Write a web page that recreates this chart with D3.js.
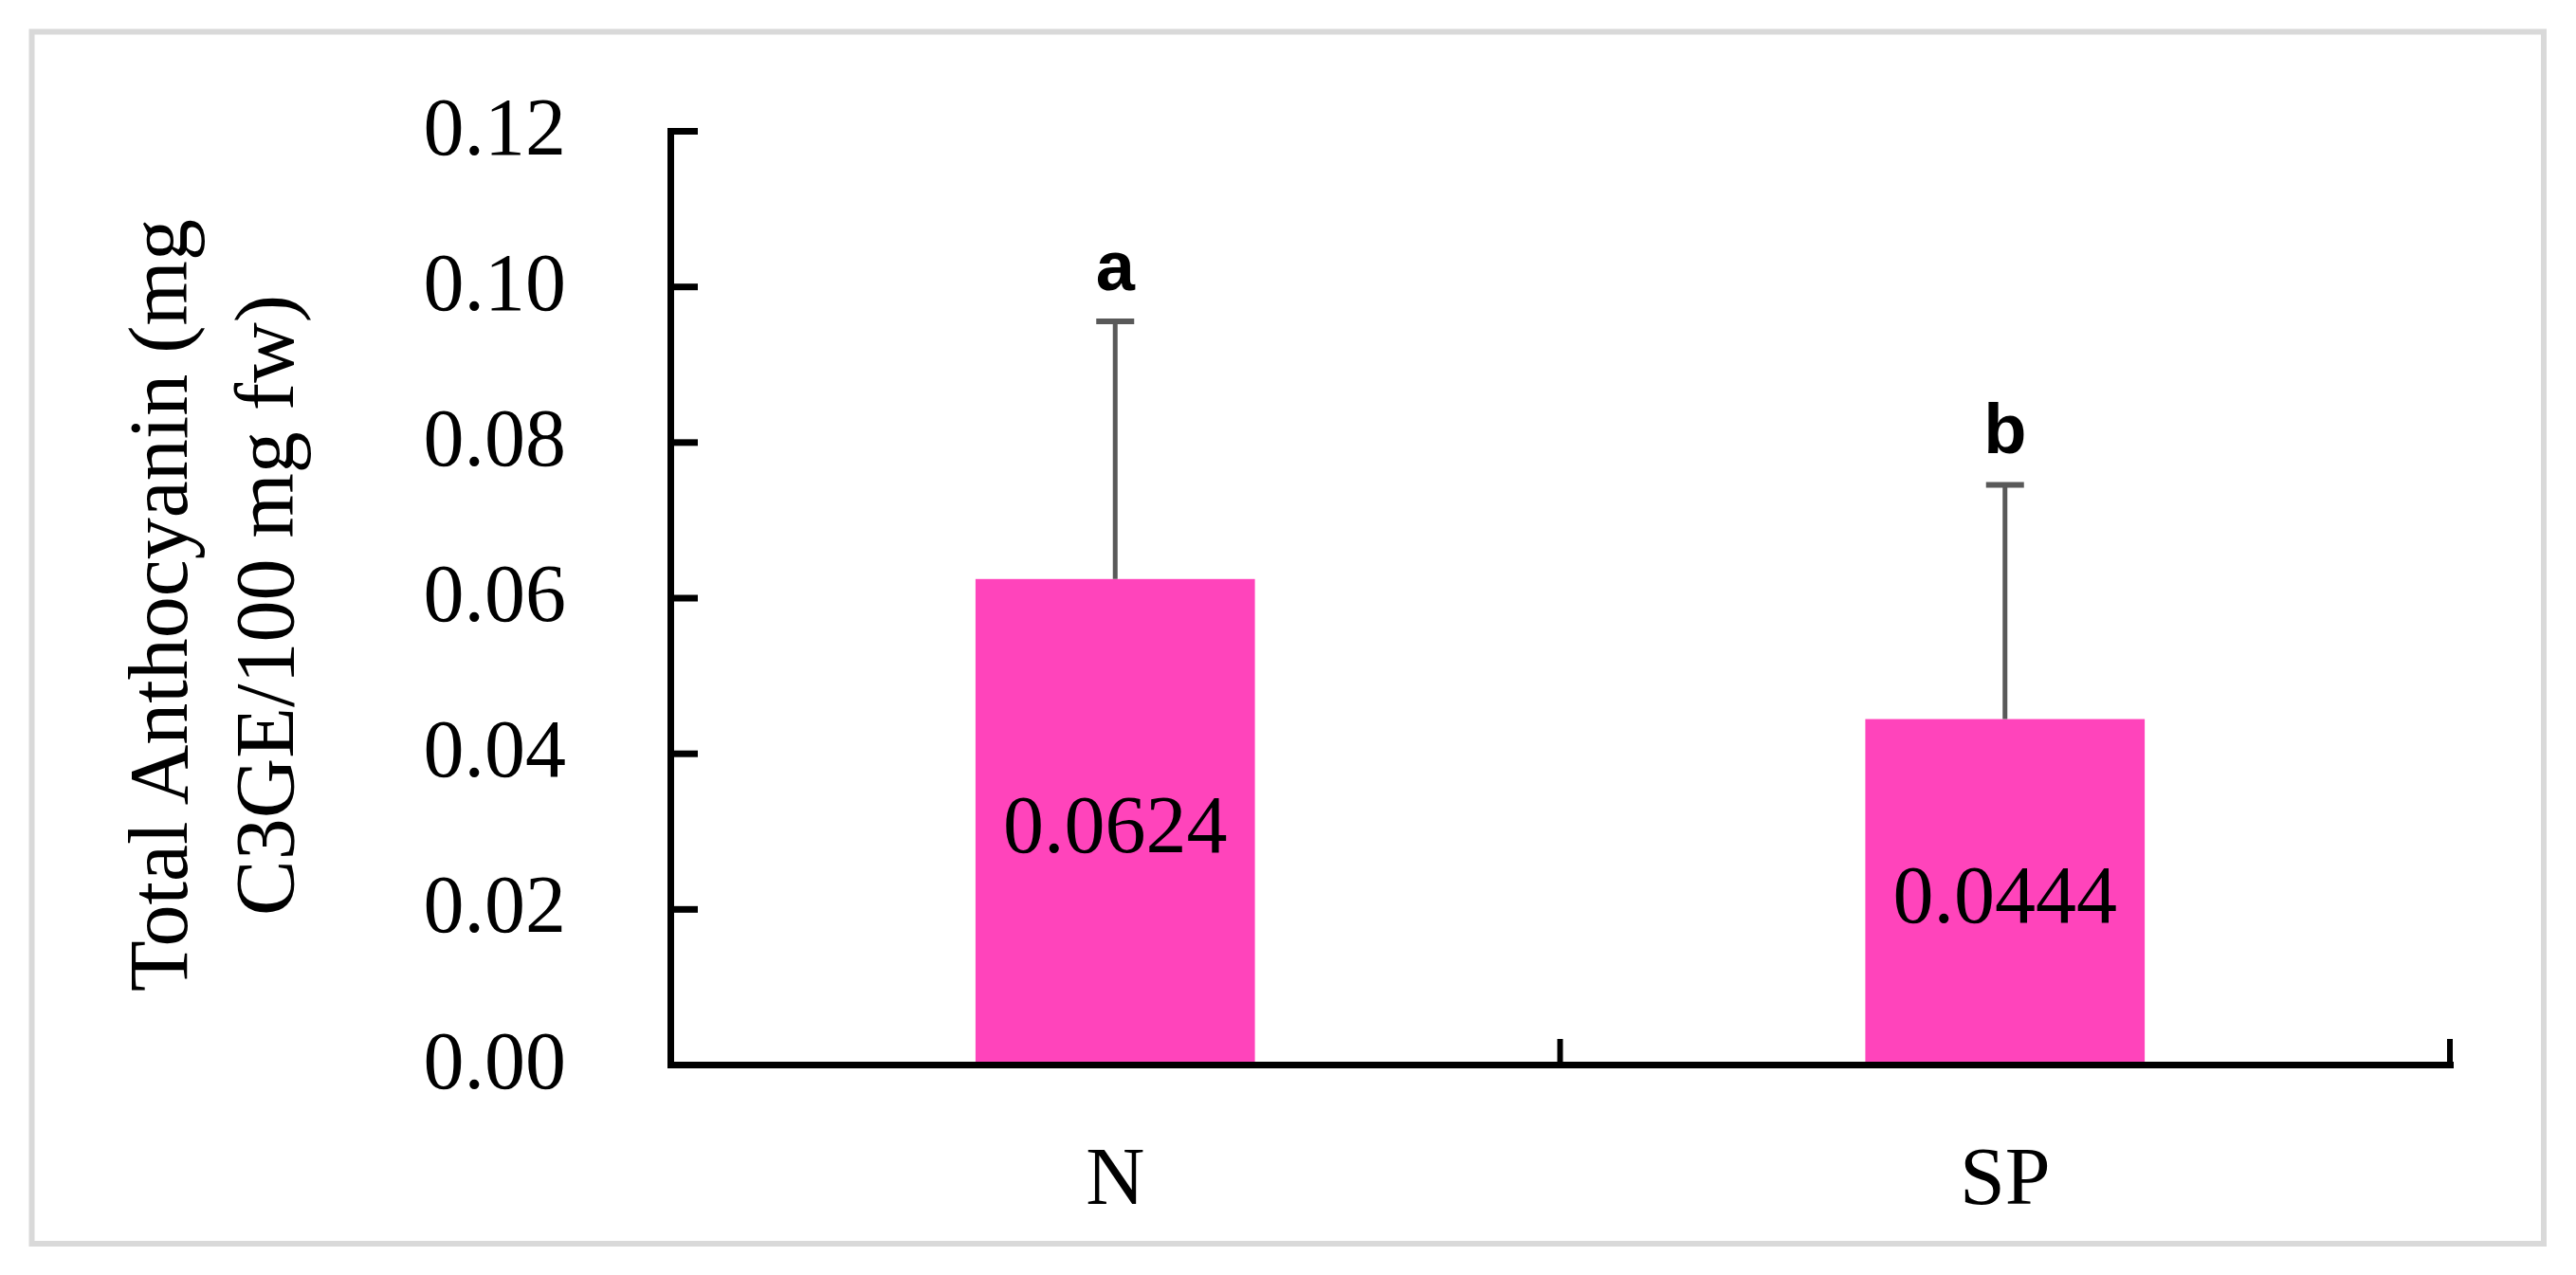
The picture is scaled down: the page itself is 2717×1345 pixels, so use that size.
<!DOCTYPE html>
<html>
<head>
<meta charset="utf-8">
<script src="https://cdn.jsdelivr.net/npm/d3@7"></script>
<style>
  html, body { margin: 0; padding: 0; background: #ffffff; }
  svg { display: block; }
</style>
</head>
<body>
<script>
// ---- Data ----
const categories = ["N", "SP"];
const means = [0.0624, 0.0444];
const sds = [0.0331, 0.0301];
const letters = ["a", "b"];
const valueLabels = ["0.0624", "0.0444"];
const yTicks = [0.00, 0.02, 0.04, 0.06, 0.08, 0.10, 0.12];
const yTitleLines = ["Total Anthocyanin (mg", "C3GE/100 mg fw)"];

(function () {
const W = 2717, H = 1345;
const svg = d3.select("body").append("svg").attr("width", W).attr("height", H);
svg.append("rect").attr("width", W).attr("height", H).attr("fill", "#fff");

// outer frame
svg.append("rect")
  .attr("x", 33.5).attr("y", 33.5)
  .attr("width", 2683 - 33.5).attr("height", 1312 - 33.5)
  .attr("fill", "none").attr("stroke", "#d9d9d9").attr("stroke-width", 6);

const pLeft = 707, pRight = 2584, pTop = 138, pBottom = 1123;
const pad = 0.686;

const x = d3.scaleBand().domain(categories).range([pLeft, pRight])
  .paddingInner(pad).paddingOuter(pad / 2);
const y = d3.scaleLinear().domain([0, 0.12]).range([pBottom, pTop]);

const serif = "'Liberation Serif', 'Times New Roman', serif";

// bars
svg.selectAll("rect.bar").data(categories).enter().append("rect")
  .attr("class", "bar")
  .attr("x", d => x(d))
  .attr("width", x.bandwidth())
  .attr("y", (d, i) => y(means[i]))
  .attr("height", (d, i) => y(0) - y(means[i]))
  .attr("fill", "#ff44bb");

// error bars (upper only)
const cap = 40;
categories.forEach((c, i) => {
  const cx = x(c) + x.bandwidth() / 2;
  const yt = y(means[i] + sds[i]);
  svg.append("line").attr("x1", cx).attr("x2", cx)
    .attr("y1", y(means[i])).attr("y2", yt)
    .attr("stroke", "#595959").attr("stroke-width", 5);
  svg.append("line").attr("x1", cx - cap / 2).attr("x2", cx + cap / 2)
    .attr("y1", yt).attr("y2", yt)
    .attr("stroke", "#595959").attr("stroke-width", 6);
  svg.append("text").attr("x", cx).attr("y", yt - 33)
    .attr("text-anchor", "middle")
    .attr("font-family", "'Liberation Sans Narrow', 'Liberation Sans', Arial, sans-serif")
    .attr("font-weight", "bold").attr("font-size", 74)
    .attr("fill", "#000").text(letters[i]);
  const mid = (y(means[i]) + y(0)) / 2;
  svg.append("text").attr("x", cx).attr("y", mid + 32)
    .attr("text-anchor", "middle")
    .attr("font-family", serif).attr("font-size", 86)
    .attr("fill", "#000").text(valueLabels[i]);
});

// y axis
const yAxis = d3.axisLeft(y).tickValues(yTicks)
  .tickFormat(d3.format(".2f"))
  .tickSizeInner(-29).tickSizeOuter(0).tickPadding(110);
const gy = svg.append("g").attr("transform", `translate(${pLeft},0)`).call(yAxis);
gy.select(".domain").attr("stroke", "#000").attr("stroke-width", 7).attr("stroke-linecap", "square");
gy.selectAll(".tick line").attr("stroke", "#000").attr("stroke-width", 7);
gy.selectAll(".tick text").attr("font-family", serif).attr("font-size", 86)
  .attr("fill", "#000").attr("dy", "0.28em");

// x axis
const xAxis = d3.axisBottom(x).tickSize(0).tickPadding(86);
const gx = svg.append("g").attr("transform", `translate(0,${pBottom})`).call(xAxis);
gx.select(".domain").attr("stroke", "#000").attr("stroke-width", 7).attr("stroke-linecap", "square");
gx.selectAll(".tick text").attr("font-family", serif).attr("font-size", 86).attr("fill", "#000");

// category boundary ticks (pointing up)
const boundaries = categories.map(c => x(c) + x.bandwidth() + x.step() * pad / 2);
svg.selectAll("line.xb").data(boundaries).enter().append("line")
  .attr("class", "xb")
  .attr("x1", d => d).attr("x2", d => d)
  .attr("y1", pBottom).attr("y2", pBottom - 27)
  .attr("stroke", "#000").attr("stroke-width", 6);

// y title
const titleX = [197, 309];
yTitleLines.forEach((t, i) => {
  svg.append("text")
    .attr("transform", `translate(${titleX[i]},${(pTop + pBottom) / 2 + 8}) rotate(-90)`)
    .attr("text-anchor", "middle")
    .attr("font-family", serif).attr("font-size", 88)
    .attr("fill", "#000").text(t);
});
})();
</script>
</body>
</html>
